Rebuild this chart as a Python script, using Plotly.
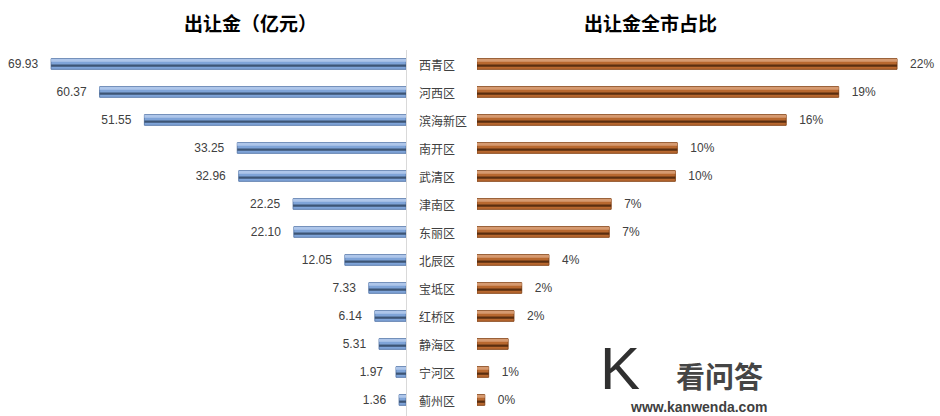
import plotly.graph_objects as go

districts = ["西青区", "河西区", "滨海新区", "南开区", "武清区", "津南区", "东丽区",
             "北辰区", "宝坻区", "红桥区", "静海区", "宁河区", "蓟州区"]
amounts = [69.93, 60.37, 51.55, 33.25, 32.96, 22.25, 22.10, 12.05, 7.33, 6.14, 5.31, 1.97, 1.36]
amount_labels = ["69.93", "60.37", "51.55", "33.25", "32.96", "22.25", "22.10",
                 "12.05", "7.33", "6.14", "5.31", "1.97", "1.36"]
shares = [21.6, 18.6, 15.9, 10.3, 10.2, 6.9, 6.8, 3.7, 2.3, 1.9, 1.6, 0.6, 0.4]
share_labels = ["22%", "19%", "16%", "10%", "10%", "7%", "7%", "4%", "2%", "2%", "", "1%", "0%"]
rows = list(range(len(districts)))

W, H = 940, 416
fig = go.Figure()

num_font = dict(family="Liberation Sans, Arial, sans-serif", size=12, color="#404040")

# left panel: base bar, highlight, dark inner line
fig.add_trace(go.Bar(y=rows, x=amounts, orientation="h", width=0.38, offset=-0.19,
                     marker=dict(color="#7fa4d8", line=dict(color="#5f7fae", width=1)),
                     text=amount_labels, texttemplate="%{text}   ", textposition="outside",
                     textfont=num_font, constraintext="none",
                     cliponaxis=False, xaxis="x", yaxis="y", hoverinfo="skip"))
fig.add_trace(go.Bar(y=rows, x=amounts, orientation="h", width=0.07, offset=-0.15,
                     marker=dict(color="#aec6ea", line=dict(width=0)),
                     xaxis="x", yaxis="y", hoverinfo="skip"))
fig.add_trace(go.Bar(y=rows, x=amounts, orientation="h", width=0.08, offset=0.02,
                     marker=dict(color="#3d5575", line=dict(width=0)),
                     xaxis="x", yaxis="y", hoverinfo="skip"))

# right panel
fig.add_trace(go.Bar(y=rows, x=shares, orientation="h", width=0.38, offset=-0.19,
                     marker=dict(color="#b8682f", line=dict(color="#8a4a1e", width=1)),
                     text=share_labels, texttemplate="   %{text}", textposition="outside",
                     textfont=num_font, constraintext="none",
                     cliponaxis=False, xaxis="x2", yaxis="y2", hoverinfo="skip"))
fig.add_trace(go.Bar(y=rows, x=shares, orientation="h", width=0.07, offset=-0.15,
                     marker=dict(color="#d69a70", line=dict(width=0)),
                     xaxis="x2", yaxis="y2", hoverinfo="skip"))
fig.add_trace(go.Bar(y=rows, x=shares, orientation="h", width=0.08, offset=0.02,
                     marker=dict(color="#5a2e10", line=dict(width=0)),
                     xaxis="x2", yaxis="y2", hoverinfo="skip"))

y_top = -64 / 28
y_bot = (H - 64) / 28

annotations = []
for i, d in enumerate(districts):
    annotations.append(dict(x=417 / W, y=i, xref="paper", yref="y", text=d, showarrow=False,
                            xanchor="left", yanchor="middle",
                            font=dict(family="Noto Sans CJK SC", size=12, color="#404040")))
annotations.append(dict(x=250 / W, y=1 - 22 / H, xref="paper", yref="paper", text="<b>出让金（亿元）</b>",
                        showarrow=False, xanchor="center", yanchor="middle",
                        font=dict(family="Noto Sans CJK SC", size=19, color="#000000")))
annotations.append(dict(x=650 / W, y=1 - 22 / H, xref="paper", yref="paper", text="<b>出让金全市占比</b>",
                        showarrow=False, xanchor="center", yanchor="middle",
                        font=dict(family="Noto Sans CJK SC", size=19, color="#000000")))
# watermark
annotations.append(dict(x=719 / W, y=1 - 375 / H, xref="paper", yref="paper", text="<b>看问答</b>",
                        showarrow=False, xanchor="center", yanchor="middle",
                        font=dict(family="Noto Sans CJK SC", size=29, color="#454545")))
annotations.append(dict(x=698 / W, y=1 - 407 / H, xref="paper", yref="paper", text="<b>www.kanwenda.com</b>",
                        showarrow=False, xanchor="center", yanchor="middle",
                        font=dict(family="Liberation Sans, Arial", size=14, color="#404040")))
annotations.append(dict(x=620 / W, y=1 - 368 / H, xref="paper", yref="paper", text="K",
                        showarrow=False, xanchor="center", yanchor="middle",
                        font=dict(family="Liberation Sans, Arial", size=60, color="#303030")))

fig.update_layout(
    width=W, height=H, margin=dict(l=0, r=0, t=0, b=0),
    paper_bgcolor="white", plot_bgcolor="white",
    barmode="overlay", showlegend=False,
    xaxis=dict(domain=[0, 406 / W], range=[80, 0], visible=False, fixedrange=True),
    yaxis=dict(domain=[0, 1], range=[y_bot, y_top], visible=False),
    xaxis2=dict(domain=[477 / W, 1], range=[0, 23.81], visible=False, anchor="y2"),
    yaxis2=dict(domain=[0, 1], range=[y_bot, y_top], visible=False, anchor="x2"),
    shapes=[dict(type="line", xref="paper", yref="paper", x0=406.5 / W, x1=406.5 / W,
                 y0=0, y1=1 - 50 / H, line=dict(color="#d9d9d9", width=1))],
    annotations=annotations,
)

fig.write_html("out.html")
